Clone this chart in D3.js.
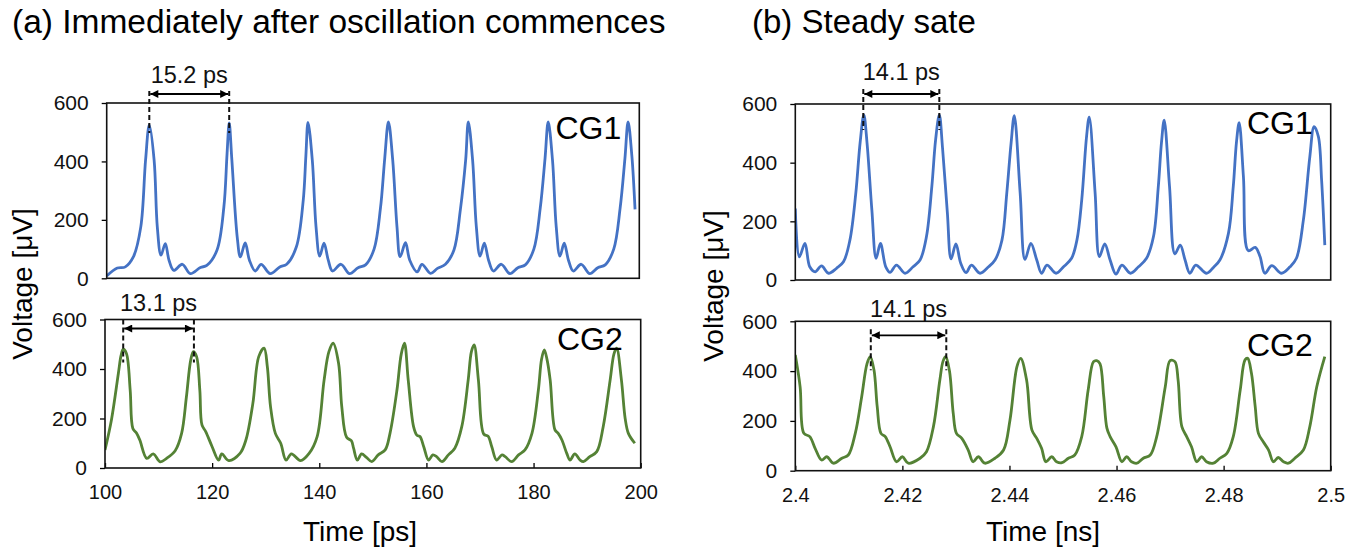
<!DOCTYPE html>
<html><head><meta charset="utf-8">
<script src="https://cdn.jsdelivr.net/npm/d3@7"></script>
<style>
html,body{margin:0;padding:0;background:#fff;}
svg{display:block;font-family:"Liberation Sans",Arial,sans-serif;}
</style></head>
<body>
<svg id="c" width="1361" height="552"></svg>
<script>
// ---------------- DATA ----------------
const titles = ["(a) Immediately after oscillation commences", "(b) Steady sate"];
const yTicks = [0, 200, 400, 600];
const xTicksA = [100, 120, 140, 160, 180, 200];
const xTicksB = [2.4, 2.42, 2.44, 2.46, 2.48, 2.5];
const xTickLabelsB = ["2.4", "2.42", "2.44", "2.46", "2.48", "2.5"];
const seriesNames = ["CG1", "CG2"];

// (a) CG1 : [time ps, voltage uV]
const cg1a = [[100,8],[102,35],[103.5,39],[105,73],[106.4,176],[107.3,405],[108.0,525],[108.9,405],[109.5,176],[110.2,79],[111.0,119],[111.7,62],[112.6,27],[114.2,48],[115.7,16],[117.6,37],[118.8,44],[120.7,96],[122.0,244],[122.6,427],[123.0,532],[123.5,405],[124.5,142],[125.1,73],[126.0,121],[126.8,62],[127.9,25],[129.0,48],[130.7,16],[132.5,39],[133.8,48],[135.6,107],[136.9,267],[137.4,420],[137.8,534],
[138.6,405],[139.3,177],[140.0,76],[140.8,120],[141.6,62],[142.4,25],[144.0,48],[145.6,16],[147.2,36],[148.6,46],[150.2,100],[151.4,240],[152.2,410],[152.9,535],
[153.7,405],[154.5,177],[155.1,74],[156.1,122],[156.9,62],[158.3,22],[159.2,48],[160.8,17],[162.1,34],[163.6,48],[165.2,97],[166.4,234],[167.4,405],[167.9,535],
[168.7,405],[169.4,177],[170.1,76],[170.9,120],[171.7,62],[172.6,25],[174.1,48],[175.7,16],[177.2,36],[178.6,46],[180.2,100],[181.4,240],[182.3,410],[182.9,535],
[183.7,405],[184.4,177],[185.1,76],[185.9,120],[186.7,62],[187.6,25],[189.1,48],[190.7,16],[192.2,36],[193.6,46],[195.2,100],[196.4,240],[197.3,410],[197.9,535],[198.6,420],[199.2,236]];

// (a) CG2 : [time ps, voltage uV]
const cg2a = [[100,73],[101.2,194],[102.5,383],[103.0,455],[103.4,480],[104.0,463],[104.7,315],[105.2,160],[105.9,140],[106.5,113],[107.8,39],[109.0,57],[110.3,25],[111.5,39],[113.1,70],[114.3,140],[115.2,288],[116.0,436],[116.5,470],[117.1,450],[117.7,315],[118.1,174],[118.8,147],[120.0,86],[121.2,32],[121.8,57],[123.1,30],[125.2,59],[126.3,113],[127.6,261],[128.7,450],[129.7,484],[130.3,410],[130.9,248],[131.8,140],[132.8,100],[133.8,32],[134.8,57],[136.5,30],[138.1,59],[139.6,127],[140.9,355],[141.8,470],[142.6,504],[143.6,423],[144.2,248],[145.1,124],[146.0,110],[146.4,80],[147.1,32],[147.9,57],[148.8,43],[149.8,26],[151.0,53],[152.3,73],[153.2,140],[154.5,315],[155.3,460],[155.9,504],
[156.6,356],[157.6,167],[158.2,133],[158.8,127],[159.5,86],[160.4,32],[161.2,53],[161.9,46],[162.9,26],[164.1,53],[165.3,80],[166.6,167],[167.8,356],[168.4,470],[168.9,497],
[169.7,356],[170.7,137],[171.5,129],[172.2,86],[173.1,32],[174.1,53],[174.7,46],[175.9,26],[177.2,53],[178.4,73],[179.7,140],[180.9,315],[181.5,440],[182.0,477],
[182.5,440],[183.1,356],[184.0,154],[184.6,140],[185.3,113],[186.2,59],[186.8,32],[187.7,57],[188.7,32],[189.3,26],[190.5,46],[191.8,66],[193.0,167],[194.3,356],[195.0,460],[195.5,484],
[196.4,356],[197.1,200],[197.7,140],[198.9,100]];

// (b) CG1 : [time ns, voltage uV]
const cg1b = [[2.4000,244],[2.40075,79],[2.4018,125],[2.4027,45],[2.4037,28],[2.4049,48],[2.4062,23],[2.4077,40],[2.4090,62],[2.4102,136],[2.4113,296],[2.4121,467],[2.4128,563],[2.4134,467],[2.4143,239],[2.4151,74],[2.4159,125],[2.4169,45],[2.4177,26],[2.4189,51],[2.4205,23],[2.4220,45],[2.4233,68],[2.4245,148],[2.4255,318],[2.4262,477],[2.4269,563],
[2.4275,450],[2.4284,230],[2.4291,72],[2.4300,123],[2.4309,57],[2.4319,25],[2.4329,51],[2.4345,23],[2.4361,45],[2.4373,68],[2.4386,136],[2.4395,296],[2.4403,466],[2.4409,560],
[2.4420,296],[2.4429,70],[2.4440,125],[2.4451,68],[2.4460,23],[2.4470,51],[2.4487,23],[2.4501,45],[2.4516,74],[2.4526,136],[2.4535,273],[2.4544,489],[2.4549,555],
[2.4560,296],[2.4568,80],[2.4578,123],[2.4588,68],[2.4599,20],[2.4610,51],[2.4626,23],[2.4641,45],[2.4656,74],[2.4669,148],[2.4678,318],[2.4684,470],[2.4689,545],
[2.4699,318],[2.4709,89],[2.4719,119],[2.4728,68],[2.4737,23],[2.4748,51],[2.4768,23],[2.4781,43],[2.4793,68],[2.4809,159],[2.4818,318],[2.4824,470],[2.4829,536],
[2.4837,352],[2.4846,100],[2.4859,111],[2.4868,80],[2.4877,23],[2.4890,49],[2.4908,23],[2.4924,45],[2.4936,74],[2.4949,205],[2.4961,420],[2.4969,523],[2.4977,489],[2.4983,341],[2.4989,119]];

// (b) CG2 : [time ns, voltage uV]
const cg2b = [[2.4000,465],[2.4009,337],[2.4016,150],[2.4027,137],[2.4037,90],[2.4049,43],[2.4059,56],[2.4071,30],[2.4087,50],[2.4099,63],[2.4112,150],[2.4124,297],[2.4134,430],[2.4140,458],[2.4147,404],[2.4153,257],[2.4160,150],[2.4168,137],[2.4177,96],[2.4189,36],[2.4200,56],[2.4211,30],[2.4233,50],[2.4245,76],[2.4258,177],[2.4270,364],[2.4276,440],[2.4281,458],[2.4288,400],[2.4295,230],[2.4301,150],[2.4311,130],[2.4323,83],[2.4332,36],[2.4342,56],[2.4354,30],[2.4373,50],[2.4389,83],[2.4401,204],[2.4414,418],[2.4421,451],
[2.4432,364],[2.4442,163],[2.4451,130],[2.4460,90],[2.4468,36],[2.4479,56],[2.4488,36],[2.4498,32],[2.4510,50],[2.4522,63],[2.4535,137],[2.4547,324],[2.4557,438],[2.4563,442],[2.4569,430],
[2.4576,300],[2.4582,171],[2.4588,137],[2.4599,96],[2.4610,36],[2.4619,56],[2.4628,36],[2.4638,30],[2.4650,50],[2.4663,63],[2.4675,137],[2.4691,337],[2.4700,442],[2.4709,438],
[2.4715,364],[2.4722,177],[2.4731,137],[2.4740,96],[2.4750,36],[2.4759,56],[2.4768,36],[2.4781,30],[2.4793,50],[2.4806,70],[2.4818,137],[2.4831,324],[2.4840,445],[2.4845,451],
[2.4852,391],[2.4859,257],[2.4865,150],[2.4874,116],[2.4884,83],[2.4893,36],[2.4902,53],[2.4912,36],[2.4921,30],[2.4933,50],[2.4949,83],[2.4961,177],[2.4974,337],[2.4989,458]];

// period annotations: [t1, t2]
const periodA1 = [108.0, 123.0], labelA1 = "15.2 ps";
const periodA2 = [103.4, 116.6], labelA2 = "13.1 ps";
const periodB1 = [2.4127, 2.4269], labelB1 = "14.1 ps";
const periodB2 = [2.4141, 2.4282], labelB2 = "14.1 ps";

// ---------------- DRAW ----------------
const svg = d3.select("#c");
const FONT = '"Liberation Sans",Arial,sans-serif';
const BLUE = "#4472c4", GREEN = "#548235";

const defs = svg.append("defs");
["s","e"].forEach(k=>{
  defs.append("marker").attr("id","arr"+k).attr("viewBox","0 0 10 10")
    .attr("refX", k==="e"?10:0).attr("refY",5).attr("markerWidth",10).attr("markerHeight",8)
    .attr("markerUnits","userSpaceOnUse").attr("orient","auto")
    .append("path").attr("d", k==="e" ? "M0,0L10,5L0,10Z" : "M10,0L0,5L10,10Z").attr("fill","#000");
});

let clipId = 0;
function panel(o){
  const x = d3.scaleLinear().domain(o.xDomain).range([o.x0, o.x1]);
  const y = d3.scaleLinear().domain([0, 600]).range([o.y1, o.y0]);
  const g = svg.append("g");
  const id = "clip" + (clipId++);
  defs.append("clipPath").attr("id", id).append("rect")
    .attr("x", o.x0).attr("y", o.y0 - 2).attr("width", o.x1 - o.x0).attr("height", o.y1 - o.y0 + 2);

  // y axis
  const ya = g.append("g").attr("transform", `translate(${o.x0},0)`)
    .call(d3.axisLeft(y).tickValues(yTicks).tickSize(5).tickPadding(13));
  ya.select(".domain").remove();
  ya.selectAll("line").attr("stroke","#000").attr("stroke-width",1.3);
  ya.selectAll("text").attr("font-family",FONT).attr("font-size",21).attr("fill","#111");

  if (o.xAxis){
    const xa = g.append("g").attr("transform", `translate(0,${o.y1})`)
      .call(d3.axisBottom(x).tickValues(o.xTicks).tickSizeInner(-5).tickSizeOuter(0).tickPadding(17)
        .tickFormat((d,i)=>o.xLabels[i]));
    xa.select(".domain").remove();
    xa.selectAll("line").attr("stroke","#000").attr("stroke-width",1.3);
    xa.selectAll("text").attr("font-family",FONT).attr("font-size",20).attr("fill","#111");
  }

  // line
  const line = d3.line().x(d=>x(d[0])).y(d=>y(d[1])).curve(d3.curveCatmullRom.alpha(0.5));
  g.append("path").datum(o.data).attr("d", line).attr("fill","none")
    .attr("stroke", o.color).attr("stroke-width", 2.8).attr("stroke-linejoin","round")
    .attr("clip-path", `url(#${id})`);

  // frame
  g.append("rect").attr("x", o.x0).attr("y", o.y0).attr("width", o.x1 - o.x0).attr("height", o.y1 - o.y0)
    .attr("fill","none").attr("stroke","#111").attr("stroke-width",1.6);

  // series name
  g.append("text").attr("x", o.x1 - 18).attr("y", o.y0 + o.nameDy).attr("text-anchor","end")
    .attr("font-family",FONT).attr("font-size",32).attr("fill","#000").text(o.name);

  // period annotation
  const p = o.period;
  p.forEach(t=>{
    g.append("line").attr("x1", x(t)).attr("x2", x(t)).attr("y1", o.y0 + o.dash[0]).attr("y2", o.y0 + o.dash[1])
      .attr("stroke","#111").attr("stroke-width",2).attr("stroke-dasharray","5,3");
  });
  g.append("line").attr("x1", x(p[0]) + 1).attr("x2", x(p[1]) - 1).attr("y1", o.y0 + o.arrowDy).attr("y2", o.y0 + o.arrowDy)
    .attr("stroke","#000").attr("stroke-width",1.8)
    .attr("marker-start","url(#arrs)").attr("marker-end","url(#arre)");
  g.append("text").attr("x", (x(p[0]) + x(p[1])) / 2).attr("y", o.y0 + o.labelDy).attr("text-anchor","middle")
    .attr("font-family",FONT).attr("font-size",23.5).attr("fill","#111").text(o.label);
}

panel({xDomain:[100,200], x0:106.7, x1:639.3, y0:103, y1:278.3, data:cg1a, color:BLUE, name:seriesNames[0], nameDy:36,
  period:periodA1, label:labelA1, dash:[-12,30], arrowDy:-9, labelDy:-20, xAxis:false});
panel({xDomain:[100,200], x0:105, x1:640.7, y0:319.5, y1:468, data:cg2a, color:GREEN, name:seriesNames[1], nameDy:30,
  period:periodA2, label:labelA2, dash:[0,43], arrowDy:9, labelDy:-9, xAxis:true, xTicks:xTicksA, xLabels:xTicksA.map(String)});
panel({xDomain:[2.4,2.5], x0:795.3, x1:1330.7, y0:104, y1:280, data:cg1b, color:BLUE, name:seriesNames[0], nameDy:30,
  period:periodB1, label:labelB1, dash:[-15,26], arrowDy:-10, labelDy:-24, xAxis:false});
panel({xDomain:[2.4,2.5], x0:795.3, x1:1330.7, y0:321.3, y1:470.7, data:cg2b, color:GREEN, name:seriesNames[1], nameDy:35,
  period:periodB2, label:labelB2, dash:[8,49], arrowDy:14, labelDy:-4, xAxis:true, xTicks:xTicksB, xLabels:xTickLabelsB});

// titles
svg.append("text").attr("x",12).attr("y",33).attr("font-family",FONT).attr("font-size",33.5).attr("fill","#000").text(titles[0]);
svg.append("text").attr("x",752).attr("y",33).attr("font-family",FONT).attr("font-size",33).attr("fill","#000").text(titles[1]);

// axis titles
[[22,284],[713,286]].forEach(([cx,cy])=>{
  svg.append("text").attr("transform",`translate(${cx+10},${cy}) rotate(-90)`).attr("text-anchor","middle")
    .attr("font-family",FONT).attr("font-size",28).attr("fill","#000").text("Voltage [\u03bcV]");
});
svg.append("text").attr("x",360).attr("y",541).attr("text-anchor","middle").attr("font-family",FONT)
  .attr("font-size",28).attr("fill","#000").text("Time [ps]");
svg.append("text").attr("x",1043).attr("y",541).attr("text-anchor","middle").attr("font-family",FONT)
  .attr("font-size",28).attr("fill","#000").text("Time [ns]");
</script>
</body></html>
